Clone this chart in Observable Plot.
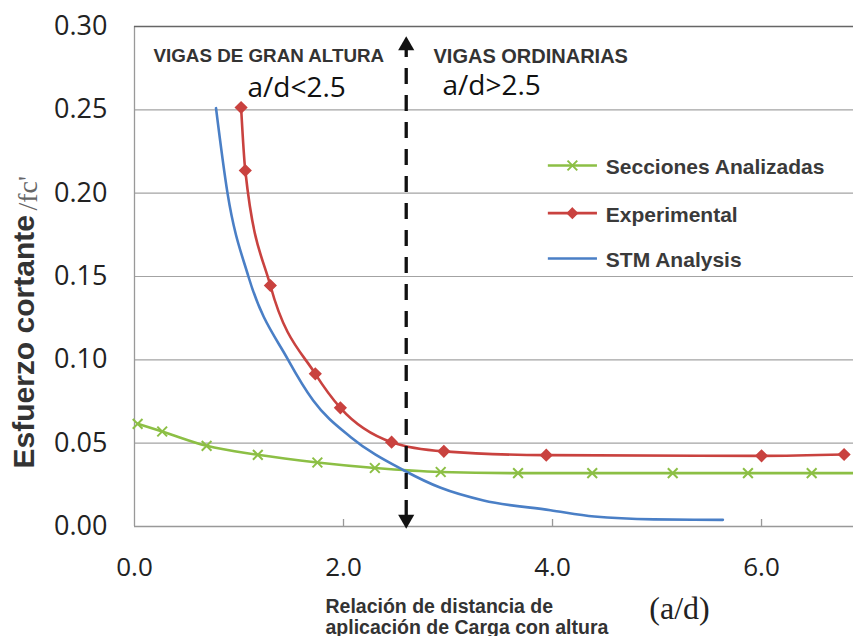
<!DOCTYPE html>
<html>
<head>
<meta charset="utf-8">
<script src="https://cdn.jsdelivr.net/npm/d3@7"></script>
<script src="https://cdn.jsdelivr.net/npm/@observablehq/plot@0.6"></script>
<style>
  html, body { margin: 0; padding: 0; background: #fff; }
  #chart svg { display: block; }
</style>
</head>
<body>
<div id="chart"></div>
<script>
// ---- data ----
const greenX = [0.03, 0.265, 0.69, 1.18, 1.75, 2.30, 2.93, 3.67, 4.38, 5.15, 5.87, 6.48];
const greenY = [0.0616, 0.057, 0.0484, 0.043, 0.0384, 0.0351, 0.0327, 0.032, 0.032, 0.032, 0.032, 0.032];
// line continues flat to the cropped right edge
const greenEdgeX = 6.9;
const greenEdgeY = 0.032;

const redX = [1.02, 1.06, 1.30, 1.73, 1.97, 2.46, 2.96, 3.94, 6.00, 6.79];
const redY = [0.2514, 0.2136, 0.1446, 0.0916, 0.0712, 0.0506, 0.0451, 0.0428, 0.0424, 0.0432];

const blueX = [0.78, 0.89, 1.09, 1.47, 1.71, 2.07, 2.58, 2.93, 3.34, 3.98, 4.40, 4.97, 5.63];
const blueY = [0.251, 0.20, 0.15, 0.10, 0.0756, 0.0536, 0.0336, 0.0232, 0.0156, 0.0098, 0.0060, 0.0043, 0.0040];

const seriesNames = ["Secciones Analizadas", "Experimental", "STM Analysis"];
const seriesColors = ["#8cbf45", "#c9423f", "#4a7fc6"];

const xTicks = [0, 2, 4, 6];
const yTicks = [0, 0.05, 0.10, 0.15, 0.20, 0.25, 0.30];

const limitX = 2.6;            // a/d = 2.5 boundary arrow
const regionLabels = ["VIGAS DE GRAN ALTURA", "VIGAS ORDINARIAS"];
const regionRatios = ["a/d<2.5", "a/d>2.5"];

// ---- build tables ----
const green = greenX.map((x, i) => ({x, y: greenY[i]}));
const greenLine = [...green, {x: greenEdgeX, y: greenEdgeY}];
const red = redX.map((x, i) => ({x, y: redY[i]}));
const blue = blueX.map((x, i) => ({x, y: blueY[i]}));

const legend = seriesNames.map((name, i) => ({
  name, color: seriesColors[i], y: [0.2166, 0.188, 0.1608][i], x1: 3.96, x2: 4.43, xm: 4.19, xt: 4.51
}));

const regionTitles = [
  {text: regionLabels[0], x: 0.182, y: 0.2790, size: 18.8},
  {text: regionLabels[1], x: 2.861, y: 0.2780, size: 20}
];
const regionSubs = [
  {text: regionRatios[0], x: 1.081, y: 0.2580},
  {text: regionRatios[1], x: 2.947, y: 0.2592}
];

const sans = "Liberation Sans, Arial, sans-serif";

const chart = Plot.plot({
  width: 853,
  height: 636,
  marginLeft: 134,
  marginRight: 0,
  marginTop: 26,
  marginBottom: 110,
  x: {domain: [0, 6.88]},
  y: {domain: [0, 0.30]},
  style: {fontFamily: "Open Sans, sans-serif", background: "#fff", color: "#222", overflow: "visible"},
  marks: [
    Plot.gridY(yTicks, {stroke: "#a3a3a3", strokeOpacity: 1, strokeWidth: 1.2}),
    Plot.ruleX([0], {stroke: "#999", strokeWidth: 1.3}),
    Plot.ruleY([0.30], {stroke: "#666", strokeWidth: 1.6}),
    Plot.ruleY([0], {stroke: "#999", strokeWidth: 1.3}),
    Plot.ruleX(xTicks.filter(d => d > 0), {y1: 0, y2: 0.0042, stroke: "#999", strokeWidth: 1.3}),

    Plot.axisY({ticks: yTicks, tickSize: 0, tickPadding: 27, fontSize: 27, tickFormat: d3.format(".2f"), label: null, fill: "#222"}),
    Plot.axisX({ticks: xTicks, tickSize: 0, tickPadding: 31, fontSize: 26, tickFormat: d3.format(".1f"), label: null, fill: "#222"}),

    // series
    Plot.line(greenLine, {x: "x", y: "y", stroke: seriesColors[0], strokeWidth: 2.6, curve: "monotone-x", clip: true}),
    Plot.dot(green, {x: "x", y: "y", symbol: "times", r: 4.5, stroke: seriesColors[0], strokeWidth: 2}),
    Plot.line(blue, {x: "x", y: "y", stroke: seriesColors[2], strokeWidth: 2.6, curve: "monotone-x"}),
    Plot.line(red, {x: "x", y: "y", stroke: seriesColors[1], strokeWidth: 2.6, curve: "monotone-x"}),
    Plot.dot(red, {x: "x", y: "y", symbol: "diamond2", r: 5, fill: seriesColors[1], stroke: seriesColors[1]}),

    // boundary arrow
    Plot.ruleX([limitX], {y1: 0.006, y2: 0.290, stroke: "#111", strokeWidth: 3.3, strokeDasharray: "16,11"}),
    Plot.dot([limitX], {x: d => d, y: [0.2885], symbol: "triangle", r: 6, fill: "#111", stroke: "none"}),
    Plot.dot([limitX], {x: d => d, y: [0.0042], symbol: "triangle", r: 6, rotate: 180, fill: "#111", stroke: "none"}),

    // region annotations
    Plot.text(regionTitles, {x: "x", y: "y", text: "text", fontSize: d => d.size, fontWeight: "bold", fontFamily: sans,
      fill: "#333", textAnchor: "start", lineAnchor: "bottom"}),
    Plot.text(regionSubs, {x: "x", y: "y", text: "text", fontSize: 28, fontFamily: "Open Sans, sans-serif",
      fill: "#111", textAnchor: "start", lineAnchor: "bottom"}),

    // legend
    Plot.ruleY(legend, {y: "y", x1: "x1", x2: "x2", stroke: "color", strokeWidth: 2.6}),
    Plot.dot(legend.slice(0, 1), {x: "xm", y: "y", symbol: "times", r: 4.5, stroke: "color", strokeWidth: 2}),
    Plot.dot(legend.slice(1, 2), {x: "xm", y: "y", symbol: "diamond2", r: 4.5, fill: "color", stroke: "color"}),
    Plot.text(legend, {x: "xt", y: "y", text: "name", fontSize: 21, fontWeight: "bold", fontFamily: sans,
      fill: "#3a3a3a", textAnchor: "start", dy: 2}),

    // y axis label
    Plot.text(["Esfuerzo cortante"], {frameAnchor: "bottom-left", dx: -101, dy: -58, rotate: -90,
      textAnchor: "start", lineAnchor: "bottom", fontSize: 30, fontWeight: "bold", fontFamily: sans, fill: "#333"}),
    Plot.text(["/fc'"], {frameAnchor: "bottom-left", dx: -98, dy: -316, rotate: -90,
      textAnchor: "start", lineAnchor: "bottom", fontSize: 28, fontFamily: "Liberation Serif, serif", fill: "#666"}),

    // x axis label
    Plot.text(["Relación de distancia de"], {frameAnchor: "bottom-left", dx: 191, dy: 86,
      textAnchor: "start", lineAnchor: "bottom", fontSize: 19.5, fontWeight: "bold", fontFamily: sans, fill: "#333"}),
    Plot.text(["aplicación de Carga con altura"], {frameAnchor: "bottom-left", dx: 191, dy: 107,
      textAnchor: "start", lineAnchor: "bottom", fontSize: 19.5, fontWeight: "bold", fontFamily: sans, fill: "#333"}),
    Plot.text(["(a/d)"], {frameAnchor: "bottom-left", dx: 545, dy: 92,
      textAnchor: "middle", lineAnchor: "bottom", fontSize: 32, fontFamily: "Liberation Serif, serif", fill: "#222"})
  ]
});

document.getElementById("chart").appendChild(chart);
</script>
</body>
</html>
